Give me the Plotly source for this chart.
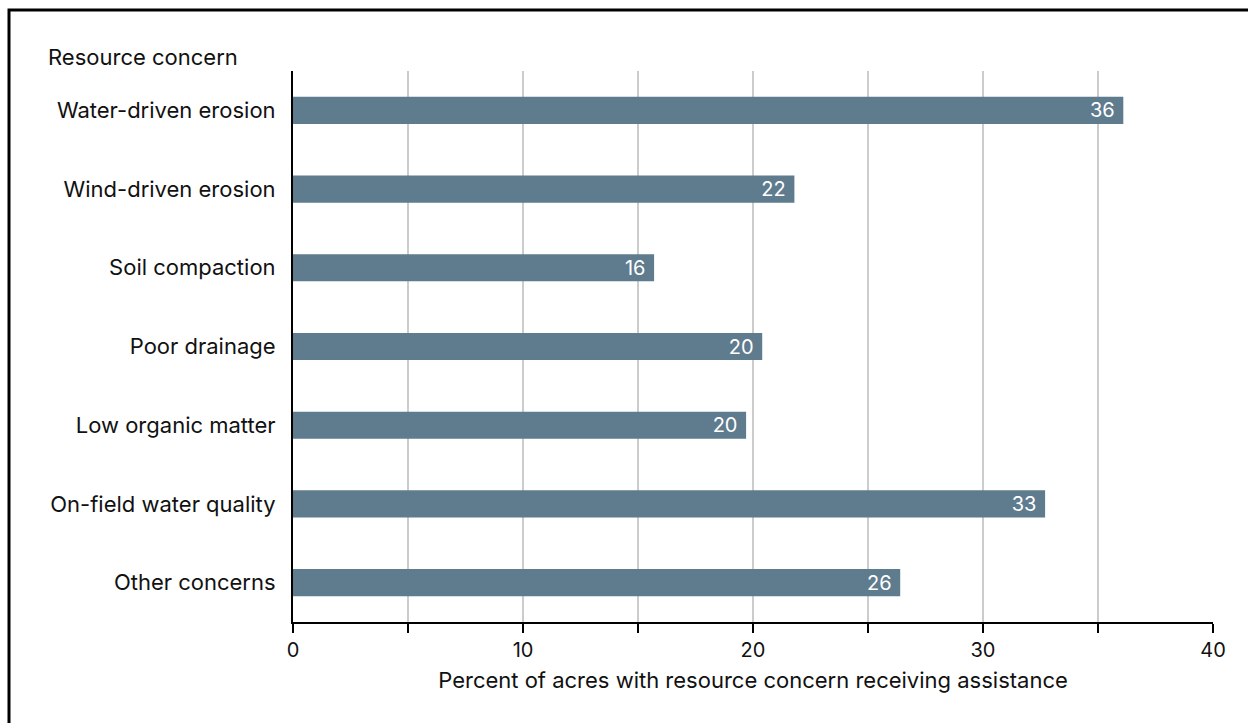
import plotly.graph_objects as go

# Resource concerns and share of acres receiving assistance (percent)
concerns = [
    "Water-driven erosion",
    "Wind-driven erosion",
    "Soil compaction",
    "Poor drainage",
    "Low organic matter",
    "On-field water quality",
    "Other concerns",
]
percent_assisted = [36.1, 21.8, 15.7, 20.4, 19.7, 32.7, 26.4]

tick_values = [0, 5, 10, 15, 20, 25, 30, 35, 40]
tick_labels = ["0", "", "10", "", "20", "", "30", "", "40"]

BAR_COLOR = "#5f7b8e"
FONT = "Inter"
TEXT_COLOR = "#111111"

fig = go.Figure(
    go.Bar(
        x=percent_assisted,
        y=concerns,
        orientation="h",
        marker=dict(color=BAR_COLOR, line=dict(width=0)),
        texttemplate="%{x:.0f}\u00a0",
        textposition="inside",
        insidetextanchor="end",
        textangle=0,
        constraintext="none",
        textfont=dict(family=FONT, size=20, color="white"),
        cliponaxis=False,
        hoverinfo="skip",
    )
)

fig.update_layout(
    width=1248,
    height=723,
    margin=dict(l=293, r=35, t=71, b=101),
    paper_bgcolor="white",
    plot_bgcolor="white",
    bargap=0.655,
    showlegend=False,
    font=dict(family=FONT, size=22, color=TEXT_COLOR),
    xaxis=dict(
        range=[0, 40],
        tickvals=tick_values,
        ticktext=tick_labels,
        ticks="outside",
        ticklen=9,
        tickwidth=2,
        tickcolor="black",
        showline=True,
        linecolor="black",
        linewidth=2,
        showgrid=True,
        gridcolor="#cccccc",
        gridwidth=1.5,
        zeroline=False,
        tickfont=dict(family=FONT, size=20, color=TEXT_COLOR),
        title=dict(
            text="Percent of acres with resource concern receiving assistance",
            font=dict(family=FONT, size=22, color=TEXT_COLOR),
            standoff=12,
        ),
        fixedrange=True,
    ),
    yaxis=dict(
        categoryorder="array",
        categoryarray=concerns,
        autorange="reversed",
        showline=True,
        linecolor="black",
        linewidth=2,
        showgrid=False,
        zeroline=False,
        ticks="",
        ticklabelstandoff=11,
        tickfont=dict(family=FONT, size=22, color=TEXT_COLOR),
        fixedrange=True,
    ),
    annotations=[
        dict(
            text="Resource concern",
            xref="paper",
            yref="paper",
            x=(46 - 293) / 920,
            y=(622 - 57) / 551,
            xanchor="left",
            yanchor="middle",
            showarrow=False,
            font=dict(family=FONT, size=22, color=TEXT_COLOR),
        )
    ],
    shapes=[
        dict(
            type="rect",
            xref="paper",
            yref="paper",
            x0=(9 - 293) / 920,
            x1=(1270 - 293) / 920,
            y0=(622 - 760) / 551,
            y1=(622 - 10) / 551,
            line=dict(color="black", width=3),
            fillcolor="rgba(0,0,0,0)",
            layer="below",
        )
    ],
)

fig.write_html("out.html")
